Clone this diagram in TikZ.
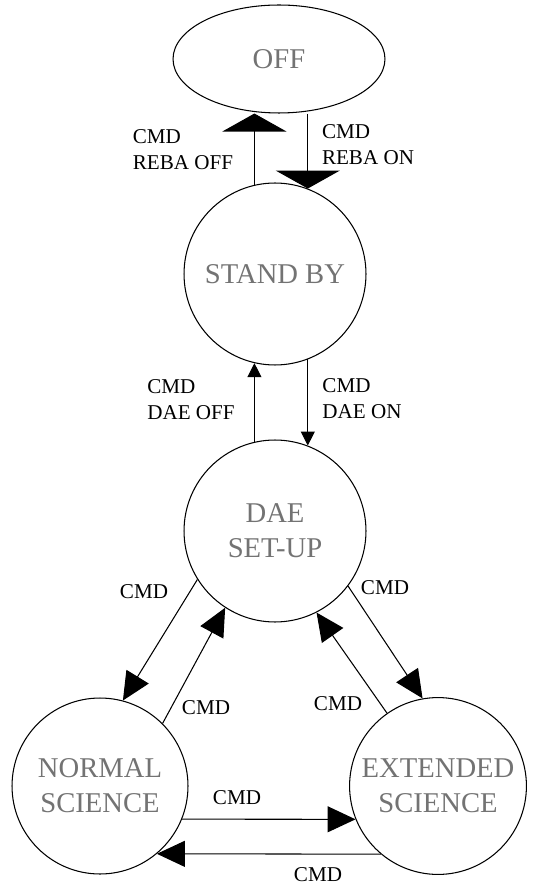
\documentclass[tikz,border=0pt]{standalone}
\usepackage{fontspec}
\setmainfont{Liberation Serif}
\usetikzlibrary{shapes.geometric, arrows.meta}

\begin{document}
\begin{tikzpicture}[x=0.02cm, y=-0.02cm, line width=0.6pt,
        etat/.style={draw, align=center, text=black!55, font=\fontsize{16.3}{20}\selectfont},
        lbl/.style={align=left, inner sep=0pt, font=\fontsize{12}{14.7}\selectfont},
        grande/.style={-{Triangle[length=0.36cm, width=1.28cm]}},
        petite/.style={-{Triangle[length=0.28cm, width=0.28cm]}},
        moyenne/.style={-{Triangle[length=0.56cm, width=0.52cm]}}]
        \useasboundingbox (0,0) rectangle (545,884);

        % Etats
        \node[etat, ellipse, minimum width=4.24cm, minimum height=2.16cm] (off) at (279,59) {OFF};
        \node[etat, circle, minimum size=3.64cm] (standby) at (275,274) {STAND BY};
        \node[etat, circle, minimum size=3.64cm] (dae) at (275,531) {DAE\\SET-UP};
        \node[etat, circle, minimum size=3.52cm] (normal) at (100,786) {NORMAL\\SCIENCE};
        \node[etat, circle, minimum size=3.52cm] (ext) at (438,786) {EXTENDED\\SCIENCE};

        % OFF <-> STAND BY
        \draw[grande] (standby.103) -- (standby.103 |- off.south);
        \draw[grande] (off.south -| standby.69) -- (standby.69);
        \node[lbl] (lrebaoff) at (183,150) {CMD\\REBA OFF};
        \node[lbl] (lrebaon) at (368,145) {CMD\\REBA ON};

        % STAND BY <-> DAE SET-UP
        \draw[petite] (dae.103) -- (standby.257);
        \draw[petite] (standby.291) -- (dae.69);
        \node[lbl] (ldaeoff) at (191,400) {CMD\\DAE OFF};
        \node[lbl] (ldaeon) at (362,399) {CMD\\DAE ON};

        % DAE SET-UP <-> sciences
        \draw[moyenne] (dae.212) -- (normal.75);
        \draw[moyenne] (normal.45) -- (dae.237);
        \draw[moyenne] (dae.323) -- (ext.100);
        \draw[moyenne] (ext.125) -- (dae.297);
        \node[lbl] (lnd) at (144,592) {CMD};
        \node[lbl] (lnu) at (206,708) {CMD};
        \node[lbl] (led) at (385,588) {CMD};
        \node[lbl] (leu) at (338,704) {CMD};

        % NORMAL <-> EXTENDED
        \draw[moyenne] (normal.-22) -- (ext.202);
        \draw[moyenne] (ext.230) -- (normal.310);
        \node[lbl] (lne) at (237,798) {CMD};
        \node[lbl] (len) at (318,875) {CMD};
    \end{tikzpicture}
\end{document}
